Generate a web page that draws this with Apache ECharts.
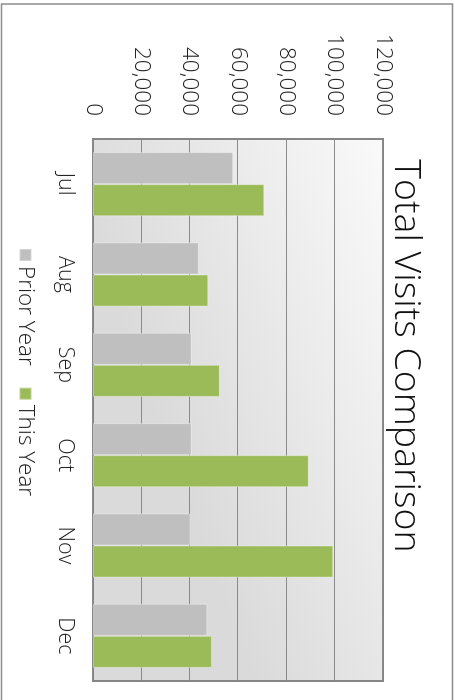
<!DOCTYPE html>
<html>
<head>
<meta charset="utf-8">
<script src="https://cdn.jsdelivr.net/npm/echarts@6/dist/echarts.min.js"></script>
<style>
  html, body { margin: 0; padding: 0; background: #ffffff; overflow: hidden; }
  #wrap { position: relative; width: 455px; height: 700px; overflow: hidden; background: #fff; }
  #chart { position: absolute; left: 0; top: 0; width: 700px; height: 455px;
           transform-origin: 0 0; transform: translateX(455px) rotate(90deg); }
</style>
</head>
<body>
<div id="wrap"><div id="chart"></div></div>
<script>
const titleText = "Total Visits Comparison";
const categories = ["Jul", "Aug", "Sep", "Oct", "Nov", "Dec"];
const seriesNames = ["Prior Year", "This Year"];
const priorYear = [58000, 43800, 40800, 40800, 40200, 47300];
const thisYear = [70900, 47700, 52500, 89300, 99400, 49200];
const valueTicks = [0, 20000, 40000, 60000, 80000, 100000, 120000];

const FONT = "'Open Sans', 'DejaVu Sans', sans-serif";
const chart = echarts.init(document.getElementById('chart'), null, { renderer: 'canvas' });
const fmt = v => v.toLocaleString('en-US');

chart.setOption({
  animation: false,
  backgroundColor: '#ffffff',
  title: {
    text: titleText,
    left: 351,
    textAlign: 'center',
    top: 25,
    textStyle: { fontFamily: FONT, fontSize: 37.5, fontWeight: 300, color: '#111111' }
  },
  legend: {
    data: seriesNames,
    left: 243,
    top: 413,
    itemWidth: 12,
    itemHeight: 12,
    itemGap: 21,
    icon: 'rect',
    textStyle: { fontFamily: FONT, fontSize: 22.5, fontWeight: 300, color: '#222222' }
  },
  graphic: [{
    type: 'rect',
    shape: { x: 4, y: 2.5, width: 760, height: 451 },
    style: { fill: 'none', stroke: '#8c8c8c', lineWidth: 1.5 },
    silent: true
  }],
  grid: {
    left: 139, right: 19, top: 72, bottom: 93,
    show: true,
    borderColor: '#858585',
    borderWidth: 2,
    backgroundColor: new echarts.graphic.LinearGradient(0, 0, 0.2, 1, [
      { offset: 0, color: '#fafafa' },
      { offset: 1, color: '#dadada' }
    ])
  },
  xAxis: {
    type: 'category',
    data: categories,
    axisLine: { show: false },
    axisTick: { show: false },
    axisLabel: { fontFamily: FONT, fontSize: 21.5, fontWeight: 300, color: '#222222', margin: 17 }
  },
  yAxis: {
    type: 'value',
    min: valueTicks[0],
    max: valueTicks[valueTicks.length - 1],
    interval: valueTicks[1] - valueTicks[0],
    axisLine: { show: false },
    axisTick: { show: false },
    splitLine: { lineStyle: { color: '#8a8a8a', width: 1.2 } },
    axisLabel: { fontFamily: FONT, fontSize: 22.5, fontWeight: 300, color: '#222222', margin: 23, formatter: fmt }
  },
  series: [
    {
      name: seriesNames[0], type: 'bar', data: priorYear,
      barGap: '0%', barCategoryGap: '29%',
      itemStyle: { color: '#bfbfbf', borderColor: 'rgba(255,255,255,0.35)', borderWidth: 1 }
    },
    {
      name: seriesNames[1], type: 'bar', data: thisYear,
      barGap: '0%', barCategoryGap: '29%',
      itemStyle: { color: '#9bbb59', borderColor: 'rgba(255,255,255,0.35)', borderWidth: 1 }
    }
  ]
});
</script>
</body>
</html>
